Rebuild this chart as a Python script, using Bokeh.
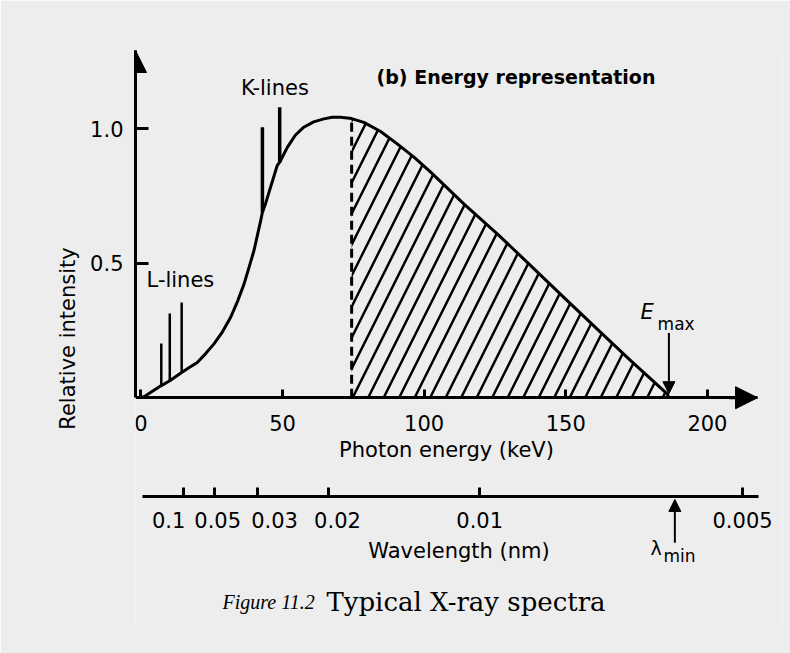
from bokeh.plotting import figure
from bokeh.models import (Range1d, FixedTicker, LinearAxis, Label, Arrow,
                          NormalHead, PrintfTickFormatter)
from bokeh.embed import file_html
from bokeh.resources import INLINE
import numpy as np

# ---------------- data ----------------
continuum_energy_kev = [0, 1.5, 3.4, 5.3, 7.2, 10.2, 14.4, 16.8, 19.9, 22.8,
                        25.8, 28.8, 31.7, 34.2, 36.4, 38.2, 39.9, 42.3, 42.9,
                        44.0, 48.1, 49.0, 51.7, 54.5, 57.5, 61.0, 64.6, 67.5,
                        70.5, 74.4, 78.7, 84.5, 90.5, 96.5, 102.3, 114.0,
                        125.8, 137.6, 149.3, 161.1, 172.9, 185.8, 186.4]
continuum_intensity = [0, 0.006, 0.019, 0.032, 0.045, 0.063, 0.094, 0.110,
                       0.131, 0.163, 0.200, 0.245, 0.299, 0.360, 0.422, 0.485,
                       0.546, 0.658, 0.689, 0.721, 0.862, 0.875, 0.930, 0.975,
                       1.005, 1.025, 1.036, 1.042, 1.042, 1.037, 1.023, 0.990,
                       0.943, 0.893, 0.838, 0.720, 0.609, 0.491, 0.373, 0.255,
                       0.138, 0.014, 0.0]

line_energy_kev = [7.2, 10.2, 14.4, 42.9, 49.0]
line_base = [0.045, 0.063, 0.094, 0.689, 0.875]
line_top = [0.201, 0.313, 0.354, 1.005, 1.079]
line_width_px = [2.5, 2.5, 2.5, 3.5, 3.5]

cutoff_energy_kev = 74.4
emax_kev = 186.4
lambda_min_kev = 188.5

energy_ticks = [0, 50, 100, 150, 200]
intensity_ticks = [0.5, 1.0]
wavelength_labels = ["0.1", "0.05", "0.03", "0.02", "0.01", "0.005"]
wavelength_tick_energy_kev = [15.0, 26.1, 41.1, 66.1, 119.7, 212.3]
wavelength_label_energy_kev = [9.8, 27.1, 47.2, 69.4, 119.6, 212.4]

# ---------------- layout ----------------
FONT = "DejaVu Sans"
BG = "#ededed"
X0, X1 = -1.9, 226.5        # energy range across the frame (keV)
X_AXIS_END = 217.7          # where the energy axis arrow ends
WAVE_SPAN = (0.6, 217.9)    # extent of the wavelength scale line
Y0, Y1 = -0.85, 1.29        # intensity range; negatives hold the lower scale
Y_WAVE = -0.368             # level of the wavelength scale
Y_CAPTION = -0.758

p = figure(width=790, height=653, output_backend="svg", toolbar_location=None,
           x_range=Range1d(X0, X1), y_range=Range1d(Y0, Y1),
           min_border_left=135, min_border_right=8, min_border_top=50,
           min_border_bottom=27, background_fill_color=BG,
           border_fill_color=BG, outline_line_color=None)
p.grid.visible = False


def style_axis(ax):
    ax.axis_line_width = 3
    ax.axis_line_color = "black"
    ax.major_tick_line_width = 3
    ax.major_tick_line_color = "black"
    ax.major_tick_out = 0
    ax.minor_tick_line_color = None
    ax.major_label_text_font = FONT
    ax.major_label_text_font_size = "21px"
    ax.major_label_text_color = "black"
    ax.axis_label_text_font = FONT
    ax.axis_label_text_font_size = "21px"
    ax.axis_label_text_font_style = "normal"
    ax.axis_label_text_color = "black"


# energy axis, drawn at intensity 0
xa = p.xaxis[0]
style_axis(xa)
xa.fixed_location = 0
xa.bounds = (X0, X_AXIS_END)
xa.ticker = FixedTicker(ticks=energy_ticks)
xa.major_tick_in = 8
xa.major_label_standoff = 17
xa.axis_label = "Photon energy (keV)"
xa.axis_label_standoff = 4

# intensity axis
ya = p.yaxis[0]
style_axis(ya)
ya.bounds = (0, Y1)
ya.ticker = FixedTicker(ticks=intensity_ticks)
ya.formatter = PrintfTickFormatter(format="%.1f")
ya.major_tick_in = 13
ya.major_label_standoff = 12
ya.axis_label = "Relative intensity"
ya.axis_label_standoff = 7

# wavelength scale: line and tick marks
wt = LinearAxis(fixed_location=Y_WAVE)
style_axis(wt)
wt.bounds = WAVE_SPAN
wt.ticker = FixedTicker(ticks=wavelength_tick_energy_kev)
wt.major_tick_in = 9
wt.major_label_text_color = None
p.add_layout(wt, "below")

# wavelength scale: labels
wl = LinearAxis(fixed_location=Y_WAVE)
style_axis(wl)
wl.axis_line_color = None
wl.major_tick_line_color = None
wl.ticker = FixedTicker(ticks=wavelength_label_energy_kev)
wl.major_label_overrides = {e: t for e, t in zip(wavelength_label_energy_kev, wavelength_labels)}
wl.major_label_standoff = 15
wl.axis_label = "Wavelength (nm)"
wl.axis_label_standoff = 8
p.add_layout(wl, "below")

# axis arrowheads
p.add_layout(Arrow(end=NormalHead(size=22, fill_color="black", line_color="black"),
                   x_start=X0, y_start=1.2, x_end=X0, y_end=Y1,
                   line_width=3, line_color="black"))
p.add_layout(Arrow(end=NormalHead(size=22, fill_color="black", line_color="black"),
                   x_start=X_AXIS_END - 10, y_start=0, x_end=X_AXIS_END, y_end=0,
                   line_width=3, line_color="black"))

# hatched region beyond the cutoff
ce = np.array(continuum_energy_kev)
ci = np.array(continuum_intensity)
cut_i = float(np.interp(cutoff_energy_kev, ce, ci))
mask = ce >= cutoff_energy_kev
hx = ce[mask]
hy = ci[mask]
p.varea(x=hx, y1=np.zeros_like(hx), y2=hy, fill_color=None,
        hatch_pattern="/", hatch_scale=31, hatch_weight=2.5, hatch_color="black")
p.segment(x0=[cutoff_energy_kev], y0=[0], x1=[cutoff_energy_kev], y1=[cut_i],
          line_color="black", line_width=3, line_dash="9 5")

# continuum and characteristic lines
p.line(continuum_energy_kev, continuum_intensity, line_color="black",
       line_width=3, line_join="round")
p.segment(x0=line_energy_kev, y0=line_base, x1=line_energy_kev, y1=line_top,
          line_color="black", line_width=line_width_px)


# texts
def lab(x, y, text, size="21px", style="normal", font=FONT, align="left"):
    p.add_layout(Label(x=x, y=y, text=text, text_font=font, text_font_size=size,
                       text_font_style=style, text_baseline="middle",
                       text_align=align, text_color="black"))


lab(35.3, 1.149, "K-lines")
lab(2.0, 0.439, "L-lines")
lab(83.2, 1.190, "(b) Energy representation", size="19px", style="bold")
lab(176.4, 0.320, "E", size="21px", style="italic")
lab(182.4, 0.273, "max", size="17px")

p.add_layout(Arrow(end=NormalHead(size=12, fill_color="black", line_color="black"),
                   x_start=emax_kev, y_start=0.24, x_end=emax_kev, y_end=0.015,
                   line_width=2, line_color="black"))

# lambda_min marker under the wavelength scale
p.add_layout(Arrow(end=NormalHead(size=12, fill_color="black", line_color="black"),
                   x_start=lambda_min_kev, y_start=-0.539, x_end=lambda_min_kev,
                   y_end=Y_WAVE - 0.01, line_width=2, line_color="black"))
lab(179.9, -0.558, "λ", size="19px")
lab(184.5, -0.587, "min", size="17px")

# caption
lab(28.8, Y_CAPTION, "Figure 11.2", size="20px", style="italic", font="Liberation Serif")
lab(65.5, Y_CAPTION, "Typical X-ray spectra", size="26px", font="DejaVu Serif")

open("out.html", "w").write(file_html(p, INLINE))
